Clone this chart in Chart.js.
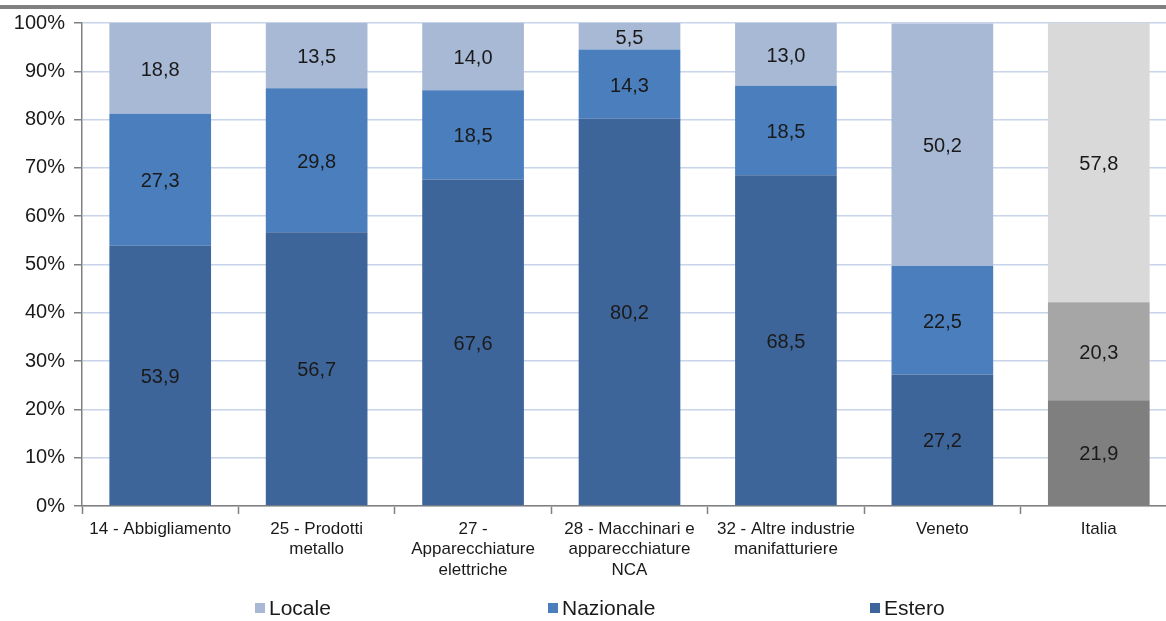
<!DOCTYPE html>
<html>
<head>
<meta charset="utf-8">
<script src="https://cdn.jsdelivr.net/npm/chart.js@4.4.1/dist/chart.umd.min.js"></script>
<style>
    html, body { margin: 0; padding: 0; background: #fff; }
    #wrap { position: relative; width: 1166px; height: 621px; overflow: hidden; }
    #topRule { position: absolute; left: 0; top: 5px; width: 1166px; height: 4px; background: #808080; }
    canvas { position: absolute; left: 0; top: 0; }
</style>
</head>
<body>
<div id="wrap">
    <canvas id="chartMercati" width="1180" height="621"></canvas>
    <div id="topRule"></div>
</div>
<script>
// DATI
const categorie = [
    "14 - Abbigliamento",
    ["25 - Prodotti", "metallo"],
    ["27 -", "Apparecchiature", "elettriche"],
    ["28 - Macchinari e", "apparecchiature", "NCA"],
    ["32 - Altre industrie", "manifatturiere"],
    "Veneto",
    "Italia",
];
const estero = [53.9, 56.7, 67.6, 80.2, 68.5, 27.2, 21.9];
const nazionale = [27.3, 29.8, 18.5, 14.3, 18.5, 22.5, 20.3];
const locale = [18.8, 13.5, 14.0, 5.5, 13.0, 50.2, 57.8];
const yTicks = [0, 10, 20, 30, 40, 50, 60, 70, 80, 90, 100];

document.addEventListener("DOMContentLoaded", function () {
    // colori: Italia in scala di grigi
    const coloriPer = (base, grigio) =>
        categorie.map((c) => (c === "Italia" ? grigio : base));

    // PLUGIN: ETICHETTE VALORI ---
    const valueLabelsPlugin = {
        id: "valueLabels",
        afterDatasetsDraw: (chart) => {
            const { ctx } = chart;
            ctx.save();
            ctx.font = "20px Arial";
            ctx.fillStyle = "#1a1a1a";
            ctx.textAlign = "center";
            ctx.textBaseline = "middle";
            chart.data.datasets.forEach((ds, di) => {
                const meta = chart.getDatasetMeta(di);
                meta.data.forEach((bar, i) => {
                    const yMid = (bar.y + bar.base) / 2 + 2;
                    const txt = ds.data[i].toFixed(1).replace(".", ",");
                    ctx.fillText(txt, bar.x, yMid);
                });
            });
            ctx.restore();
        },
    };

    // PLUGIN: LEGENDA IN BASSO ---
    const legendaPlugin = {
        id: "legendaCustom",
        afterDraw: (chart) => {
            const { ctx } = chart;
            const voci = [
                { ds: 2, x: 255 },
                { ds: 1, x: 548 },
                { ds: 0, x: 870 },
            ];
            const y = 608;
            ctx.save();
            ctx.font = "21px Arial";
            ctx.textAlign = "left";
            ctx.textBaseline = "middle";
            voci.forEach((v) => {
                const ds = chart.data.datasets[v.ds];
                ctx.fillStyle = ds.backgroundColor[0];
                ctx.fillRect(v.x, y - 5, 10, 10);
                ctx.fillStyle = "#1a1a1a";
                ctx.fillText(ds.label, v.x + 14, y + 1);
            });
            ctx.restore();
        },
    };

    const ctx = document.getElementById("chartMercati").getContext("2d");
    window.chartMercati = new Chart(ctx, {
        type: "bar",
        plugins: [valueLabelsPlugin, legendaPlugin],
        data: {
            labels: categorie,
            datasets: [
                {
                    label: "Estero",
                    data: estero,
                    backgroundColor: coloriPer("#3e6599", "#7f7f7f"),
                },
                {
                    label: "Nazionale",
                    data: nazionale,
                    backgroundColor: coloriPer("#4a7ebd", "#a6a6a6"),
                },
                {
                    label: "Locale",
                    data: locale,
                    backgroundColor: coloriPer("#a8b9d5", "#d9d9d9"),
                },
            ],
        },
        options: {
            responsive: false,
            animation: false,
            devicePixelRatio: 1,
            layout: {
                padding: { top: 23, bottom: 0, left: 0, right: 3 },
            },
            datasets: {
                bar: { categoryPercentage: 0.65, barPercentage: 1.0, borderWidth: 0 },
            },
            plugins: {
                legend: { display: false },
                tooltip: { enabled: false },
            },
            scales: {
                x: {
                    stacked: true,
                    afterFit: (scale) => { scale.height = 115; },
                    grid: {
                        display: true,
                        drawOnChartArea: false,
                        drawTicks: true,
                        tickLength: 8,
                        tickColor: "#808080",
                        tickWidth: 1.5,
                        offset: true,
                    },
                    border: { color: "#808080", width: 1.5 },
                    ticks: {
                        color: "#1a1a1a",
                        font: { family: "Arial", size: 17 },
                        maxRotation: 0,
                        autoSkip: false,
                        padding: 5,
                    },
                },
                y: {
                    stacked: true,
                    min: 0,
                    max: 100,
                    afterFit: (scale) => { scale.width = 82; },
                    afterBuildTicks: (scale) => {
                        scale.ticks = yTicks.map((v) => ({ value: v }));
                    },
                    grid: {
                        color: "#c8d4e9",
                        lineWidth: 1.5,
                        tickColor: "#808080",
                        tickLength: 8,
                    },
                    border: { color: "#808080", width: 1.5 },
                    ticks: {
                        color: "#1a1a1a",
                        font: { family: "Arial", size: 20 },
                        padding: 9,
                        callback: (v) => v + "%",
                    },
                },
            },
        },
    });
});
</script>
</body>
</html>
